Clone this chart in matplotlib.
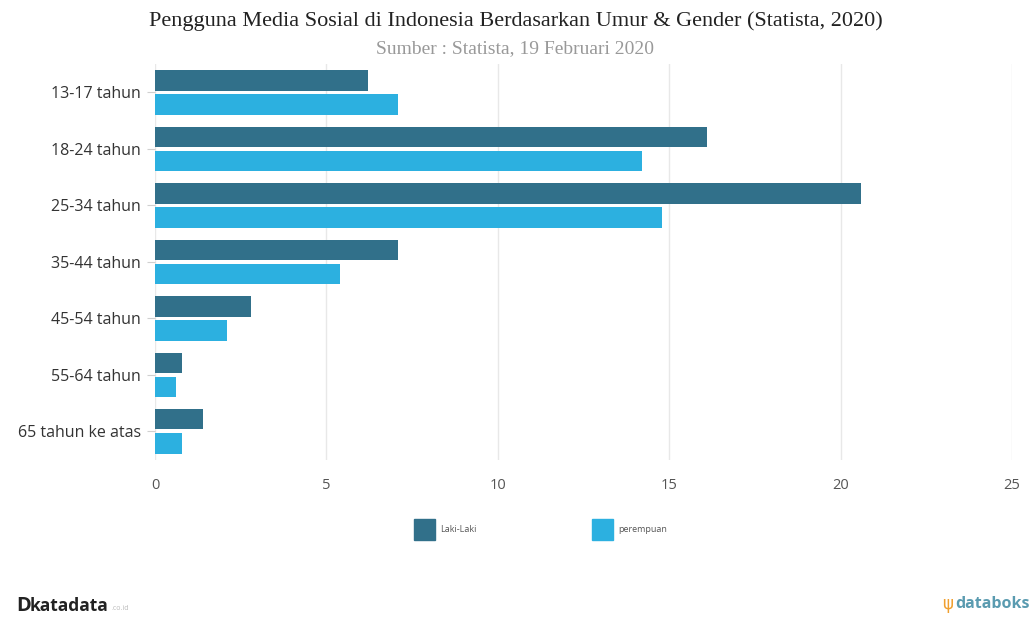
import numpy as np
import matplotlib
matplotlib.use("Agg")
import matplotlib.pyplot as plt
from matplotlib.patches import Rectangle

categories = ["13-17 tahun", "18-24 tahun", "25-34 tahun", "35-44 tahun",
              "45-54 tahun", "55-64 tahun", "65 tahun ke atas"]
laki_laki = [6.2, 16.1, 20.6, 7.1, 2.8, 0.8, 1.4]
perempuan = [7.1, 14.2, 14.8, 5.4, 2.1, 0.6, 0.8]
x_ticks = [0, 5, 10, 15, 20, 25]

c_laki = "#31708a"
c_perempuan = "#2cb0e0"

fig = plt.figure(figsize=(10.31, 6.17), dpi=100)
ax = fig.add_axes([0.1503, 0.2549, 0.9816 - 0.1503, 0.8959 - 0.2549])

y = np.arange(len(categories))
h = 0.36
ax.barh(y - 0.215, laki_laki, height=h, color=c_laki, zorder=3)
ax.barh(y + 0.215, perempuan, height=h, color=c_perempuan, zorder=3)

ax.set_xlim(0, 25)
ax.set_ylim(len(categories) - 0.5, -0.5)
ax.set_yticks(y)
ax.set_yticklabels(categories, fontsize=11.5, color="#333333", family="Open Sans")
ax.set_xticks(x_ticks)
ax.set_xticklabels([str(t) for t in x_ticks], fontsize=10.5, color="#555555", family="Open Sans")
ax.tick_params(axis="y", length=6, color="#d0d0d0", pad=4)
ax.tick_params(axis="x", length=0, pad=13)
ax.grid(axis="x", color="#e8e8e8", linewidth=1, zorder=0)
for s in ax.spines.values():
    s.set_visible(False)

fig.text(0.5, 0.966, "Pengguna Media Sosial di Indonesia Berdasarkan Umur & Gender (Statista, 2020)",
         ha="center", va="center", fontsize=16, family="Liberation Serif", color="#222222")
fig.text(0.5, 0.921, "Sumber : Statista, 19 Februari 2020",
         ha="center", va="center", fontsize=14, family="Liberation Serif", color="#999999")

# legend
for xpos, col, lab in [(414, c_laki, "Laki-Laki"), (592, c_perempuan, "perempuan")]:
    fig.add_artist(Rectangle((xpos / 1031, 1 - 540 / 617), 21 / 1031, 21 / 617,
                             transform=fig.transFigure, color=col))
    fig.text((xpos + 26) / 1031, 1 - 530 / 617, lab, ha="left", va="center",
             fontsize=6.5, color="#555555", family="Open Sans")

# footer
fig.text(16 / 1031, 1 - 606 / 617, "D", ha="left", va="center", fontsize=14.5,
         fontweight="bold", color="#222222", family="Open Sans")
fig.text(30 / 1031, 1 - 606 / 617, "katadata", ha="left", va="center", fontsize=12.5,
         fontweight="bold", color="#222222", family="Open Sans")
fig.text(111 / 1031, 1 - 608 / 617, ".co.id", ha="left", va="center", fontsize=5,
         color="#bbbbbb", family="Open Sans")
fig.text(953 / 1031, 1 - 604 / 617, "ψ", ha="right", va="center", fontsize=12,
         color="#f0a030", family="DejaVu Sans")
fig.text(1030 / 1031, 1 - 604 / 617, "databoks", ha="right", va="center", fontsize=11.5,
         fontweight="bold", color="#5a9bb0", family="Open Sans")

fig.savefig("out.png", dpi=100, facecolor="white")
